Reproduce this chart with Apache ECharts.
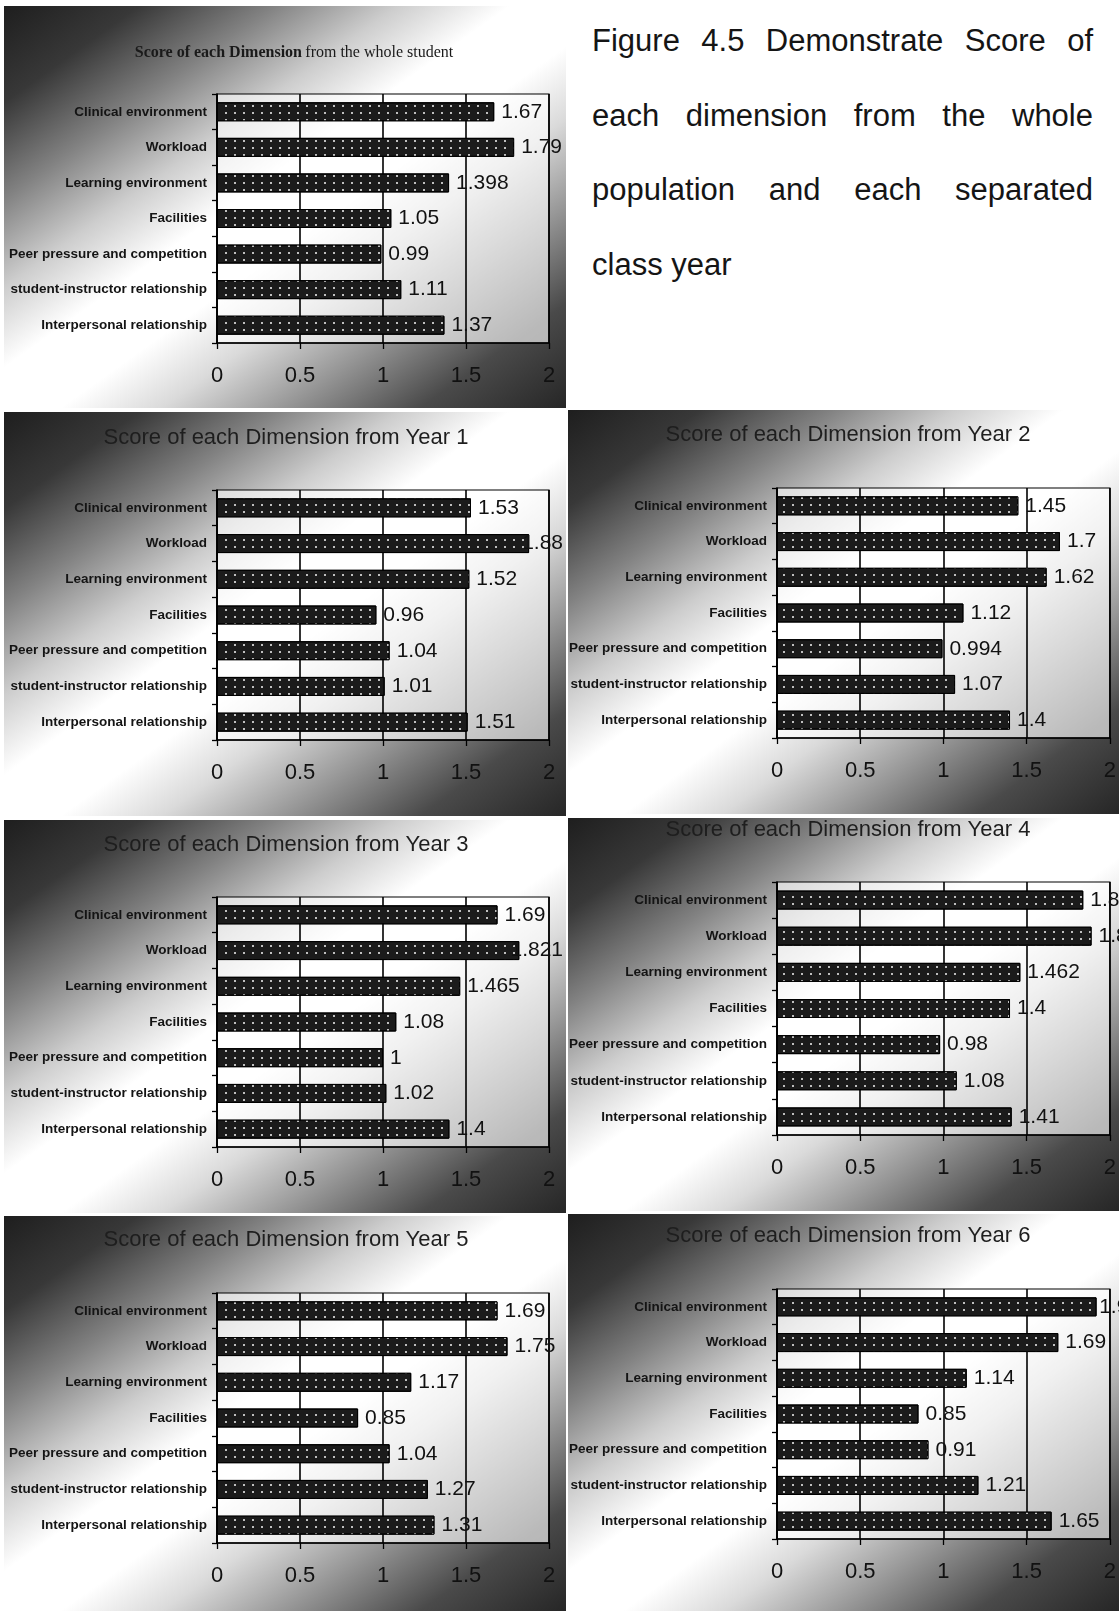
<!DOCTYPE html>
<html>
<head>
<meta charset="utf-8">
<title>Score of each Dimension</title>
<script src="https://cdn.jsdelivr.net/npm/echarts@6/dist/echarts.min.js"></script>
<style>
  html, body { margin: 0; padding: 0; background: #fff; }
  #stage { position: relative; width: 1119px; height: 1611px; overflow: hidden; background: #fff; }
  .panel {
    position: absolute;
    background: linear-gradient(to bottom right,
      #1e1e1e 0%, #383838 12%, #828282 24%, #cdcdcd 35%, #ffffff 45%,
      #ffffff 55%, #dadada 64%, #969696 75%, #4a4a4a 87%, #262626 100%);
  }
  .caption {
    position: absolute; left: 592px; width: 501px; height: 40px; line-height: 40px;
    font-family: 'Liberation Sans', Arial, sans-serif; font-size: 31px; color: #151515;
  }
  .caption.just { text-align: justify; text-align-last: justify; }
  #chart { position: absolute; left: 0; top: 0; width: 1119px; height: 1611px; }
</style>
</head>
<body>
<div id="stage">
  <div id="chart"></div>
</div>
<script>
// ---- data ----
const dimensions = [
  'Clinical environment',
  'Workload',
  'Learning environment',
  'Facilities',
  'Peer pressure and competition',
  'student-instructor relationship',
  'Interpersonal relationship'
];
const xTicks = [0, 0.5, 1, 1.5, 2];

const wholeStudent = [1.67, 1.79, 1.398, 1.05, 0.99, 1.11, 1.37];
const year1 = [1.53, 1.88, 1.52, 0.96, 1.04, 1.01, 1.51];
const year2 = [1.45, 1.7, 1.62, 1.12, 0.994, 1.07, 1.4];
const year3 = [1.69, 1.821, 1.465, 1.08, 1, 1.02, 1.4];
const year4 = [1.84, 1.89, 1.462, 1.4, 0.98, 1.08, 1.41];
const year5 = [1.69, 1.75, 1.17, 0.85, 1.04, 1.27, 1.31];
const year6 = [1.92, 1.69, 1.14, 0.85, 0.91, 1.21, 1.65];

const panelTitles = [
  'Score of each Dimension from the whole student',
  'Score of each Dimension from Year 1',
  'Score of each Dimension from Year 2',
  'Score of each Dimension from Year 3',
  'Score of each Dimension from Year 4',
  'Score of each Dimension from Year 5',
  'Score of each Dimension from Year 6'
];
const panelSeries = [wholeStudent, year1, year2, year3, year4, year5, year6];

const captionLines = [
  'Figure 4.5 Demonstrate Score of',
  'each dimension from the whole',
  'population and each separated',
  'class year'
];

// ---- layout (pixels) ----
const layout = [
  { panel: [4, 6, 562, 402],    plot: [217, 94, 332, 249],   title: [294, 53],   labelLimit: 563 },
  { panel: [4, 412, 562, 404],  plot: [217, 490, 332, 250],  title: [286, 438],  labelLimit: 563 },
  { panel: [568, 410, 551, 404], plot: [777, 488, 333, 250], title: [848, 435],  labelLimit: 1140 },
  { panel: [4, 820, 562, 393],  plot: [217, 897, 332, 250],  title: [286, 845],  labelLimit: 563 },
  { panel: [568, 818, 551, 393], plot: [777, 882, 333, 253], title: [848, 830],  labelLimit: 1140 },
  { panel: [4, 1216, 562, 395], plot: [217, 1293, 332, 250], title: [286, 1240], labelLimit: 563 },
  { panel: [568, 1214, 551, 397], plot: [777, 1289, 333, 250], title: [848, 1236], labelLimit: 1140 }
];
const captionCenters = [41, 116, 190, 265];

const SANS = "'Liberation Sans', Arial, sans-serif";
const SERIF = "'Liberation Serif', 'Times New Roman', serif";

// ---- shaded chart-area backgrounds and caption ----
const stage = document.getElementById('stage');
const chartDiv = document.getElementById('chart');
layout.forEach(l => {
  const d = document.createElement('div');
  d.className = 'panel';
  d.style.left = l.panel[0] + 'px';
  d.style.top = l.panel[1] + 'px';
  d.style.width = l.panel[2] + 'px';
  d.style.height = l.panel[3] + 'px';
  stage.insertBefore(d, chartDiv);
});
captionLines.forEach((t, i) => {
  const d = document.createElement('div');
  d.className = 'caption' + (i < captionLines.length - 1 ? ' just' : '');
  d.style.top = (captionCenters[i] - 20) + 'px';
  d.textContent = t;
  stage.insertBefore(d, chartDiv);
});

// keep value labels inside the chart area; a label pushed back over its bar
// sinks into the dark fill
function clampLabel(limit) {
  return function (params) {
    const r = params.labelRect;
    const over = r.x + r.width - limit;
    return over > 0 ? { dx: -over } : {};
  };
}

const dotDecal = {
  symbol: 'rect',
  symbolSize: 1,
  color: 'rgba(255,255,255,0.72)',
  dashArrayX: [1.4, 6.6],
  dashArrayY: [1.4, 5],
  rotation: 0
};

const option = {
  backgroundColor: 'transparent',
  animation: false,
  grid: layout.map(l => ({
    left: l.plot[0], top: l.plot[1], width: l.plot[2], height: l.plot[3],
    show: true,
    backgroundColor: 'rgba(255,255,255,0.62)',
    borderColor: '#000',
    borderWidth: 1.2
  })),
  xAxis: layout.map((l, i) => ({
    gridIndex: i,
    type: 'value',
    min: xTicks[0],
    max: xTicks[xTicks.length - 1],
    interval: xTicks[1] - xTicks[0],
    axisLine: { show: true, lineStyle: { color: '#000', width: 1.6 } },
    axisTick: { show: true, length: 6, lineStyle: { color: '#000', width: 1.3 } },
    splitLine: { show: true, lineStyle: { color: '#000', width: 1.6 } },
    axisLabel: { fontSize: 22, color: '#111', margin: 22, fontFamily: SANS }
  })),
  yAxis: layout.map((l, i) => ({
    gridIndex: i,
    type: 'category',
    data: dimensions,
    inverse: true,
    axisLine: { show: true, lineStyle: { color: '#000', width: 1.6 } },
    axisTick: { show: true, length: 5, alignWithLabel: false, lineStyle: { color: '#000', width: 1.3 } },
    splitLine: { show: false },
    axisLabel: { fontSize: 13.5, fontWeight: 'bold', color: '#141414', margin: 10, fontFamily: SANS }
  })),
  series: panelSeries.map((values, i) => ({
    type: 'bar',
    name: panelTitles[i],
    xAxisIndex: i,
    yAxisIndex: i,
    data: values,
    barWidth: 19,
    itemStyle: { color: '#1b1b1b', borderColor: '#000', borderWidth: 1, decal: dotDecal },
    label: {
      show: true, position: 'right', distance: 7, offset: [0, -3],
      fontSize: 21, color: '#111', fontFamily: SANS
    },
    labelLayout: clampLabel(layout[i].labelLimit)
  })),
  graphic: layout.map((l, i) => i === 0 ? {
    type: 'text', x: l.title[0], y: l.title[1], z: 10,
    style: {
      text: '{b|Score of each Dimension} {n|from the whole student}',
      rich: {
        b: { fontFamily: SERIF, fontSize: 16, fontWeight: 'bold', fill: '#1a1a1a' },
        n: { fontFamily: SERIF, fontSize: 16, fill: '#1a1a1a' }
      },
      align: 'center', verticalAlign: 'middle',
      textAlign: 'center', textVerticalAlign: 'middle'
    }
  } : {
    type: 'text', x: l.title[0], y: l.title[1], z: 10,
    style: {
      text: panelTitles[i],
      fill: '#1e1e1e',
      font: "22px 'Liberation Sans', Arial, sans-serif",
      align: 'center', verticalAlign: 'middle',
      textAlign: 'center', textVerticalAlign: 'middle',
      shadowColor: 'rgba(255,255,255,0.8)', shadowBlur: 2
    }
  })
};

const chart = echarts.init(chartDiv, null, { renderer: 'canvas', width: 1119, height: 1611 });
chart.setOption(option);
</script>
</body>
</html>
